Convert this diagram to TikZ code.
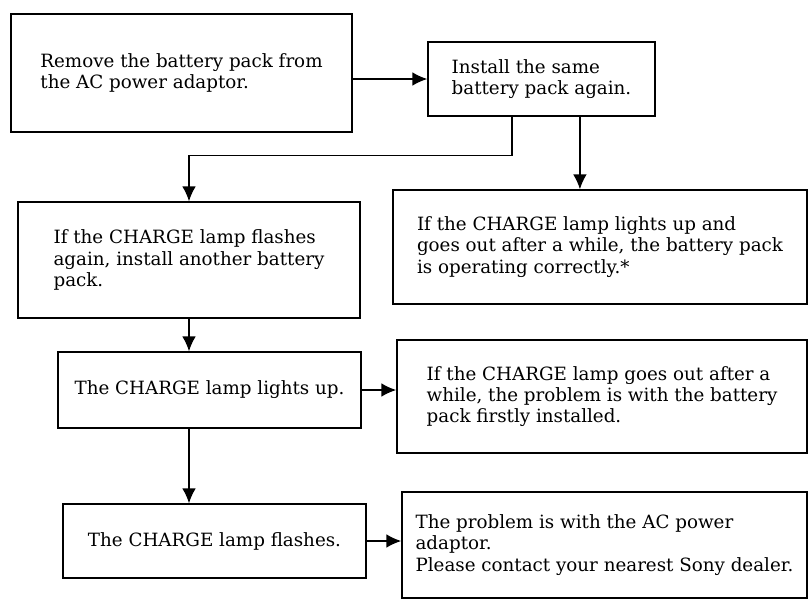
\documentclass[tikz,border=0pt]{standalone}
\usepackage{fontspec}
\setmainfont{DejaVu Serif}
\usetikzlibrary{arrows.meta,calc}
\tikzset{
	box/.style={draw, line width=1.1pt, align=left, inner sep=2pt, font=\fontsize{13}{15.2}\selectfont},
	arr/.style={line width=0.9pt, -{Latex[length=0.37cm,width=0.34cm]}}
}
\begin{document}
\begin{tikzpicture}[x=0.025cm, y=-0.025cm]
	\useasboundingbox (0,0) rectangle (810,607);
	
	\node[box, line width=2pt, minimum width=8.525cm, minimum height=2.95cm] (remove) at (181.5,73) {Remove the battery pack from\\the AC power adaptor.};
	\node[box, minimum width=5.675cm, minimum height=1.85cm] (install) at (541.5,79) {Install the same\hspace{1.6cm}\\battery pack again.};
	\node[box, minimum width=8.55cm, minimum height=2.9cm] (flash) at (189,260) {If the CHARGE lamp flashes\\again, install another battery\\pack.};
	\node[box, minimum width=10.35cm, minimum height=2.85cm] (ok) at (600,247) {If the CHARGE lamp lights up and\\goes out after a while, the battery pack\\is operating correctly.*};
	\node[box, minimum width=7.575cm, minimum height=1.9cm] (lights) at (209.5,390) {The CHARGE lamp lights up.};
	\node[box, minimum width=10.25cm, minimum height=2.825cm] (first) at (602,396.5) {If the CHARGE lamp goes out after a\\while, the problem is with the battery\\pack firstly installed.};
	\node[box, minimum width=7.575cm, minimum height=1.85cm] (flashes) at (214.5,541) {The CHARGE lamp flashes.};
	\node[box, minimum width=10.125cm, minimum height=2.65cm] (adaptor) at (604.5,545) {The problem is with the AC power\\adaptor.\\Please contact your nearest Sony dealer.};
	
	\draw[arr] (remove.east |- install.west) -- (install.west);
	\draw[arr] ([xshift=-0.74cm]install.south) -- ++(0,-0.975cm) -| (flash.north);
	\draw[arr] ([xshift=0.96cm]install.south) -- ([xshift=0.96cm]install.south |- ok.north);
	\draw[arr] (flash.south) -- (flash.south |- lights.north);
	\draw[arr] (lights.east) -- (lights.east -| first.west);
	\draw[arr] (lights.south -| flash.south) -- (flashes.north -| flash.south);
	\draw[arr] (flashes.east) -- (flashes.east -| adaptor.west);
\end{tikzpicture}
\end{document}
